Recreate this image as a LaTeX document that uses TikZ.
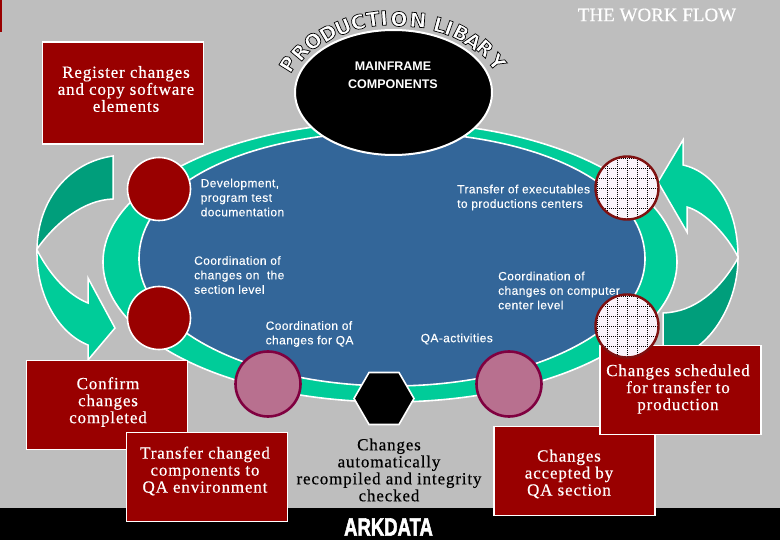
\documentclass[tikz,border=0pt]{standalone}
\usepackage{fontspec}
\usetikzlibrary{shapes.geometric}
\setmainfont{Liberation Serif}
\setsansfont{Liberation Sans}
\newfontfamily\boxfont{Liberation Serif}[LetterSpace=5,FakeBold=.4]
\newfontfamily\titlefont{Liberation Serif}[FakeBold=.5]
\newfontfamily\labelfont{Liberation Sans}[LetterSpace=3.3,FakeBold=.15]
\newfontfamily\arcfont{DejaVu Sans Bold}
\newfontfamily\logofont{Liberation Sans Bold}[FakeBold=2.5]
\newcommand{\outlined}[1]{\special{pdf:code 2 Tr 0.7 w 0 0 0 RG}#1\special{pdf:code 0 Tr}}
\definecolor{wfgray}{HTML}{BEBEBE}
\definecolor{wfred}{HTML}{990000}
\definecolor{wfblue}{HTML}{336699}
\definecolor{wfgreen}{HTML}{00CC99}
\definecolor{wfdark}{HTML}{009E7B}
\definecolor{wfmaroon}{HTML}{7F1010}
\definecolor{wfcrimson}{HTML}{800040}
\definecolor{wfmesh}{HTML}{B8708F}
\definecolor{wfpale}{HTML}{FAF2FA}

\begin{document}
\begin{tikzpicture}[x=1pt,y=-1pt,
    redbox/.style={draw=white,line width=1.6pt,fill=wfred,minimum width=161pt,minimum height=89pt,inner sep=0pt},
    boxtext/.style={text=white,align=center,inner sep=0pt,font=\boxfont\fontsize{17}{17}\selectfont},
    bluetext/.style={text=white,align=left,anchor=west,inner sep=0pt,font=\labelfont\fontsize{12}{14.5}\selectfont},
    arcletter/.style={text=white,inner sep=0pt,font=\arcfont\fontsize{20}{20}\selectfont},
    reddisc/.style={circle,draw=white,line width=1.6pt,fill=wfred,minimum size=63pt,inner sep=0pt},
    meshdisc/.style={circle,draw=wfcrimson,line width=2.6pt,fill=wfmesh,minimum size=65pt,inner sep=0pt},
    griddisc/.style={circle,draw=wfmaroon,line width=2.4pt,fill=wfpale,minimum size=63pt,inner sep=0pt,
      path picture={
        \foreach \i in {-30,-20,...,30}{
          \draw[griddot] ([shift={(\i,-34)}]path picture bounding box.center) -- ++(0,68);
          \draw[griddot] ([shift={(-34,\i)}]path picture bounding box.center) -- ++(68,0);
        }}},
    griddot/.style={black,line width=.7pt,dash pattern=on 1pt off 1pt},
    turnband/.style={draw=white,line width=1.5pt,line join=miter}]

  % page
  \fill[wfgray] (0,0) rectangle (780,540);
  \fill[black] (0,508) rectangle (780,540);
  \fill[wfred] (0,0) rectangle (2,32);

  % arrows
  \draw[turnband,fill=wfdark] (113,156) .. controls (70,162) and (38,198) .. (37,249)
    .. controls (56,222) and (84,200) .. (113,199) -- cycle;
  \draw[turnband,fill=wfgreen] (37,250) .. controls (36,295) and (58,333) .. (88,345) -- (88,360)
    -- (115,328) -- (88,278) -- (88,303) .. controls (68,295) and (50,275) .. (37,250) -- cycle;
  \draw[turnband,fill=wfgreen] (658,182) -- (683,140) -- (683,165)
    .. controls (715,172) and (738,208) .. (738,257)
    .. controls (727,235) and (705,212) .. (687,207) -- (687,232) -- cycle;
  \draw[turnband,fill=wfdark] (738,258) .. controls (738,295) and (720,330) .. (697,347) -- (663,347) -- (663,313)
    .. controls (695,312) and (720,290) .. (738,258) -- cycle;

  % ring
  \node[ellipse,draw=white,line width=1.6pt,fill=wfgreen,minimum width=574pt,minimum height=280pt,inner sep=0pt] (ring) at (390,262) {};
  \draw[white,line width=1.6pt,fill=wfblue] (139,259) .. controls (139,183) and (250,132) .. (392,132)
    .. controls (534,132) and (645,183) .. (645,259)
    .. controls (645,329) and (532,386) .. (392,386)
    .. controls (252,386) and (139,329) .. (139,259) -- cycle;

  % library
  \node[ellipse,draw=white,line width=2pt,fill=black,minimum width=197pt,minimum height=125pt,inner sep=0pt] (mainframe) at (393.5,92.5) {};
  \node[text=white,align=center,inner sep=0pt,font=\sffamily\bfseries\fontsize{12.5}{18}\selectfont] (maintext) at (393,75) {MAINFRAME\\COMPONENTS};
  \foreach \ch/\px/\py/\rot [count=\n] in {P/288/64/58,R/300/52/50,O/313/41/40,D/328/33/31,U/343/27/23,
      C/358/22/15,T/373/19/8,I/384/18/4,O/399/19/0,N/418/20/-4,L/440/25/-15,I/449/28/-20,
      B/461/33/-27,A/473/41/-35,R/485/48/-42,Y/497/62/-50}
    \node[arcletter,rotate=\rot] (arc\n) at (\px,\py) {\outlined{\ch}};

  \node[regular polygon,regular polygon sides=6,draw=white,line width=1.6pt,fill=black,minimum size=60pt,inner sep=0pt] (compile) at (384,398.5) {};

  % discs
  \node[reddisc] (develop) at (159,189) {};
  \node[reddisc] (section) at (159,318) {};
  \node[griddisc] (transfer) at (627,188) {};
  \node[meshdisc] (coordqa) at (268,384) {};
  \node[meshdisc] (qaact) at (509,384) {};

  % boxes
  \node[redbox,minimum height=102pt] (register) at (123,93) {};
  \node[redbox] (confirm) at (107,405) {};
  \node[redbox] (qaenv) at (207,477) {};
  \node[redbox] (accepted) at (574.5,471) {};
  \node[redbox] (scheduled) at (680.5,390) {};
  \node[griddisc] (center) at (627,326) {};

  % box texts
  \node[boxtext] (registertext) at (126,89) {Register changes\\and copy software\\elements};
  \node[boxtext] (confirmtext) at (108,402) {Confirm\\changes\\completed};
  \node[boxtext] (qaenvtext) at (205,471) {Transfer changed\\components to\\QA environment};
  \node[boxtext] (acceptedtext) at (569,474) {Changes\\accepted by\\QA section};
  \node[boxtext] (scheduledtext) at (678,389) {Changes scheduled\\for transfer to\\production};
  \node[boxtext,text=black] (compiletext) at (389,470) {Changes\\automatically\\recompiled and integrity\\checked};

  % blue texts
  \node[bluetext] (developtext) at (200.5,197.5) {Development,\\program test\\documentation};
  \node[bluetext] (transfertext) at (457,197.5) {Transfer of executables\\to productions centers};
  \node[bluetext] (sectiontext) at (194,275) {Coordination of\\changes on~~the\\section level};
  \node[bluetext] (centertext) at (498,290.5) {Coordination of\\changes on computer\\center level};
  \node[bluetext] (coordqatext) at (265.5,334) {Coordination of\\changes for QA};
  \node[bluetext] (qaacttext) at (420.5,339) {QA-activities};

  % headings
  \node[text=white,inner sep=0pt,font=\titlefont\fontsize{19}{19}\selectfont] (title) at (657,15) {THE WORK FLOW};
  \node[text=white,inner sep=0pt,font=\logofont\fontsize{25}{25}\selectfont] (logo) at (388.5,527) {\scalebox{.74}[1]{ARKDATA}};
\end{tikzpicture}
\end{document}
